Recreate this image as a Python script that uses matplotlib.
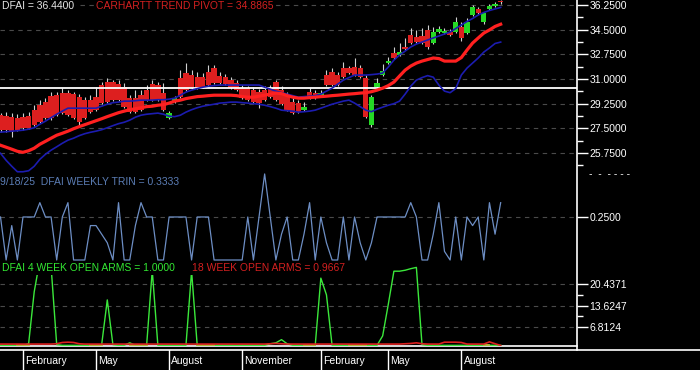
import numpy as np
import pandas as pd
import matplotlib
matplotlib.use("Agg")
import matplotlib.pyplot as plt
from matplotlib.lines import Line2D

plt.rcParams['font.family'] = ['Liberation Sans', 'DejaVu Sans']

# ------------------------------------------------------------------ data
dates = pd.date_range('2024-01-05', periods=90, freq='W-FRI')

opens = [28.43, 28.36, 28.29, 28.22, 28.29, 28.36, 28.79, 29.14, 29.36, 29.78,
         29.86, 30.00, 30.00, 29.93, 29.71, 29.50, 29.50, 29.71, 30.57, 30.78,
         30.78, 30.64, 30.42, 29.64, 29.64, 29.86, 30.21, 30.64, 30.57, 30.00,
         28.22, 29.36, 31.06, 31.42, 31.28, 31.13, 31.13, 31.49, 31.77, 31.21,
         31.13, 30.92, 30.71, 30.35, 30.35, 30.21, 30.07, 30.21, 30.35, 30.78,
         30.21, 29.86, 29.36, 29.29, 28.79, 30.07, 30.00, 29.86, 31.28, 31.49,
         31.28, 31.77, 31.77, 31.85, 31.77, 31.06, 27.72, 30.42, 31.28, 32.13,
         32.84, 32.70, 33.27, 34.12, 33.98, 34.05, 34.48, 33.55, 34.33, 34.26,
         34.33, 34.33, 34.69, 34.26, 35.54, 35.97, 35.05, 35.97, 36.18, 36.50]
closes = [27.37, 27.37, 27.22, 27.37, 27.51, 27.51, 27.72, 27.94, 28.22, 28.22,
          28.43, 28.58, 28.43, 28.22, 27.94, 28.22, 28.65, 28.79, 29.29, 29.36,
          29.50, 29.50, 29.00, 28.65, 28.65, 28.79, 29.50, 29.50, 29.50, 28.79,
          28.58, 29.64, 29.71, 30.21, 30.35, 30.35, 30.42, 30.57, 30.71, 30.71,
          30.64, 30.35, 30.21, 29.64, 29.50, 29.36, 29.29, 29.50, 29.71, 29.50,
          29.21, 28.79, 28.58, 28.65, 29.00, 29.64, 29.64, 30.00, 30.57, 30.57,
          30.57, 31.13, 31.42, 31.28, 31.13, 28.29, 29.71, 30.71, 31.56, 32.27,
          32.49, 32.91, 33.13, 33.55, 33.62, 33.55, 33.27, 34.33, 34.55, 34.41,
          34.12, 35.05, 33.91, 35.05, 36.11, 35.69, 35.69, 36.18, 36.33, 36.44]
highs = [28.58, 28.65, 28.58, 28.50, 28.58, 28.65, 29.14, 29.50, 29.64, 30.07,
         30.07, 30.35, 30.21, 30.07, 29.93, 29.71, 29.86, 30.42, 30.78, 31.06,
         30.92, 30.92, 30.71, 29.86, 30.21, 30.21, 30.57, 30.92, 30.78, 30.71,
         28.72, 29.78, 31.63, 32.13, 31.63, 31.49, 31.42, 31.99, 31.99, 31.49,
         31.35, 31.13, 30.92, 30.57, 30.50, 30.42, 30.28, 30.50, 30.57, 30.92,
         30.50, 30.07, 29.64, 29.50, 29.36, 30.35, 30.21, 30.21, 31.63, 31.77,
         31.49, 32.20, 31.92, 32.49, 31.99, 31.28, 29.86, 31.06, 32.06, 32.56,
         33.27, 33.55, 33.91, 34.62, 34.48, 34.62, 34.83, 34.69, 34.76, 34.62,
         34.55, 35.40, 35.05, 35.33, 36.25, 36.11, 35.76, 36.33, 36.47, 36.58]
lows = [27.22, 27.22, 26.87, 27.30, 27.37, 27.44, 27.65, 27.86, 28.15, 28.08,
        28.36, 28.50, 28.36, 28.15, 27.72, 28.15, 28.58, 28.72, 29.21, 29.29,
        29.43, 29.43, 28.93, 28.58, 28.58, 28.72, 29.43, 29.43, 29.43, 28.72,
        28.15, 29.29, 29.64, 30.14, 30.28, 30.28, 30.35, 30.50, 30.64, 30.64,
        30.57, 30.28, 30.14, 29.57, 29.43, 29.29, 28.93, 29.43, 29.64, 29.43,
        29.14, 28.72, 28.50, 28.58, 28.72, 29.57, 29.57, 29.78, 30.50, 30.50,
        30.50, 31.06, 31.35, 31.21, 31.06, 28.22, 27.58, 30.35, 31.21, 32.06,
        32.42, 32.63, 33.06, 33.48, 33.55, 33.48, 33.13, 33.48, 34.26, 34.19,
        34.05, 34.26, 33.69, 34.19, 35.47, 35.61, 34.90, 35.90, 36.11, 36.30]

trend_pivot = [26.30, 26.16, 26.02, 25.87, 25.80, 25.91, 26.09, 26.37, 26.58, 26.80,
               27.01, 27.15, 27.30, 27.47, 27.62, 27.76, 27.90, 28.04, 28.18, 28.33,
               28.47, 28.61, 28.72, 28.82, 28.89, 28.96, 29.04, 29.07, 29.14, 29.18,
               29.29, 29.43, 29.50, 29.61, 29.68, 29.75, 29.78, 29.82, 29.85, 29.85,
               29.85, 29.85, 29.82, 29.75, 29.71, 29.71, 29.78, 29.85, 29.93, 30.00,
               29.96, 29.82, 29.71, 29.64, 29.64, 29.68, 29.71, 29.75, 29.78, 29.82,
               29.85, 29.89, 29.93, 29.96, 30.00, 30.03, 30.10, 30.21, 30.35, 30.53,
               30.78, 31.21, 31.63, 31.92, 32.13, 32.27, 32.38, 32.49, 32.45, 32.27,
               32.27, 32.27, 32.52, 33.05, 33.55, 33.91, 34.26, 34.48, 34.73, 34.8865]
band_upper = [27.23, 27.26, 27.30, 27.33, 27.37, 27.44, 27.54, 27.79, 28.01, 28.26,
              28.50, 28.72, 28.93, 28.93, 28.93, 28.93, 28.93, 28.93, 29.07, 29.21,
              29.32, 29.36, 29.43, 29.43, 29.46, 29.50, 29.50, 29.50, 29.53, 29.53,
              29.57, 29.64, 29.85, 30.07, 30.21, 30.32, 30.42, 30.49, 30.53, 30.57,
              30.57, 30.57, 30.57, 30.57, 30.57, 30.57, 30.57, 30.42, 30.28, 30.14,
              30.03, 29.93, 29.82, 29.71, 29.75, 29.78, 29.82, 29.93, 30.14, 30.35,
              30.64, 30.92, 31.10, 31.28, 31.28, 31.28, 31.31, 31.35, 31.42, 31.85,
              32.34, 32.70, 32.98, 33.27, 33.48, 33.62, 33.77, 33.91, 34.05, 34.19,
              34.33, 34.58, 34.83, 35.08, 35.29, 35.54, 35.72, 35.86, 35.97, 36.08]
band_lower = [25.73, 25.23, 24.81, 24.42, 24.42, 24.49, 24.81, 25.30, 25.66, 25.95,
              26.19, 26.44, 26.66, 26.80, 26.98, 27.12, 27.22, 27.30, 27.40, 27.54,
              27.69, 27.83, 27.93, 28.08, 28.29, 28.43, 28.50, 28.54, 28.58, 28.50,
              28.36, 28.33, 28.43, 28.65, 28.82, 28.96, 29.07, 29.14, 29.21, 29.29,
              29.32, 29.36, 29.36, 29.32, 29.29, 29.25, 29.21, 29.14, 29.04, 28.93,
              28.79, 28.75, 28.72, 28.65, 28.68, 28.72, 28.79, 28.93, 29.07, 29.21,
              29.32, 29.43, 29.50, 29.29, 29.04, 28.79, 28.68, 28.86, 29.00, 29.14,
              29.25, 29.43, 29.93, 30.49, 30.92, 31.10, 31.24, 31.13, 30.57, 30.14,
              30.03, 30.32, 31.28, 31.77, 32.13, 32.49, 32.91, 33.20, 33.52, 33.62]
pivot_level = 30.35

trin = [0.25, 0, 0.2, 0, 0.25, 0.25, 0.25, 0.3333, 0.25, 0.25,
        0, 0.25, 0.3333, 0, 0, 0, 0.2, 0.2, 0.15, 0.1,
        0, 0.3333, 0, 0, 0.2, 0.3333, 0.25, 0.25, 0, 0,
        0.25, 0.25, 0.25, 0.25, 0, 0.25, 0.25, 0.25, 0, 0,
        0, 0, 0, 0, 0.25, 0, 0.25, 0.5, 0.25, 0,
        0.15, 0.25, 0, 0, 0.15, 0.3333, 0, 0.25, 0.1, 0,
        0, 0.25, 0, 0.25, 0.1, 0, 0.1, 0.25, 0.25, 0.25,
        0.25, 0.25, 0.25, 0.3333, 0.25, 0, 0, 0.15, 0.3333, 0.05,
        0, 0.25, 0, 0.25, 0.2, 0.25, 0, 0.3333, 0.15, 0.3333]

arms_4wk = [1.0, 1.0, 1.0, 1.0, 1.0, 1.5, 18.0, 28.0, 28.0, 26.0,
            1.2, 1.0, 1.0, 1.0, 1.0, 1.0, 1.0, 1.0, 1.2, 15.4,
            1.2, 1.0, 1.0, 1.8, 1.0, 1.0, 1.0, 24.8, 1.0, 1.0,
            1.0, 1.0, 1.0, 1.0, 24.5, 1.0, 1.0, 1.0, 1.0, 1.0,
            1.0, 1.0, 0.9, 1.0, 1.0, 1.0, 1.0, 1.0, 1.5, 1.8,
            2.8, 1.5, 1.0, 1.0, 1.0, 1.0, 1.0, 22.3, 17.0, 1.0,
            1.0, 1.0, 1.0, 1.0, 1.0, 1.0, 1.0, 1.0, 4.0, 14.0,
            24.5, 24.5, 24.8, 25.3, 25.7, 1.2, 1.0, 1.0, 1.0, 1.0,
            1.0, 1.0, 1.0, 1.0, 1.0, 1.0, 1.0, 1.0, 1.0, 1.0]
arms_18wk = [1.4, 1.4, 1.4, 1.4, 1.4, 1.4, 1.4, 1.4, 1.4, 1.4,
             1.5, 1.9, 2.0, 1.9, 1.5, 1.4, 1.4, 1.4, 1.4, 1.4,
             1.4, 1.4, 1.4, 1.4, 1.4, 1.4, 1.4, 1.4, 1.4, 1.4,
             1.4, 1.4, 1.4, 1.4, 1.4, 1.4, 1.4, 1.4, 1.4, 1.4,
             1.4, 1.4, 1.4, 1.4, 1.4, 1.4, 1.4, 1.4, 1.5, 1.6,
             1.5, 1.4, 1.4, 1.4, 1.4, 1.4, 1.4, 1.4, 1.4, 1.4,
             1.4, 1.4, 1.4, 1.4, 1.4, 1.4, 1.4, 1.4, 1.4, 1.4,
             1.4, 1.4, 1.5, 1.6, 1.8, 1.5, 1.4, 1.4, 1.4, 2.0,
             2.0, 2.0, 1.9, 1.4, 1.4, 1.4, 1.4, 2.1, 1.5, 0.9667]
arms_10wk = [np.nan, np.nan, np.nan, 1.1, 1.1, 1.1, np.nan, np.nan, np.nan, np.nan,
             np.nan, np.nan, np.nan, np.nan, np.nan, np.nan, 1.1, 1.1, 1.1, np.nan,
             np.nan, np.nan, np.nan, 1.1, 1.1, 1.1, 1.1, np.nan, np.nan, np.nan,
             np.nan, np.nan, np.nan, np.nan, np.nan, 1.1, 1.1, 1.1, 1.1, np.nan,
             np.nan, np.nan, np.nan, np.nan, np.nan, np.nan, np.nan, np.nan, np.nan, np.nan,
             np.nan, np.nan, np.nan, np.nan, 1.1, 1.1, 1.1, np.nan, np.nan, np.nan,
             np.nan, np.nan, 1.1, 1.1, 1.1, 1.1, np.nan, np.nan, np.nan, np.nan,
             np.nan, np.nan, np.nan, np.nan, np.nan, np.nan, np.nan, np.nan, np.nan, np.nan,
             np.nan, np.nan, np.nan, np.nan, np.nan, np.nan, 1.2, 1.2, np.nan, np.nan]

price_ticks = [25.75, 27.5, 29.25, 31.0, 32.75, 34.5, 36.25]
price_minor = [24.875, 26.625, 28.375, 30.125, 31.875, 33.625, 35.375]
trin_ticks = [0.25]
arms_ticks = [6.8124, 13.6247, 20.4371]
arms_minor = [10.2186, 17.0309]
quarter_months = {2: 'February', 5: 'May', 8: 'August', 11: 'November'}

# ------------------------------------------------------------------ styles
BG = 'black'
C_UP = '#25d825'
C_DN = '#dd1f1f'
C_WICK = '#cfcfcf'
C_PIVOT = '#ff2020'
C_BAND = '#1c1cb0'
C_TRIN = '#6d8ec4'
C_GRID = '#4a4a4a'
FS = 7.5

W, H = 700, 370
fig = plt.figure(figsize=(W / 100, H / 100), dpi=100, facecolor=BG)

def px_axes(top, bottom, left=0, right=577):
    return fig.add_axes([left / W, 1 - bottom / H, (right - left) / W, (bottom - top) / H])

x = np.arange(len(dates))
XL = (-0.09, 102.58)

ax1 = px_axes(0, 178)
ax2 = px_axes(170, 260)
ax3 = px_axes(261, 346)
for ax in (ax1, ax2, ax3):
    ax.set_facecolor('none')
    ax.set_xlim(*XL)
    ax.set_xticks([])
    for s in ax.spines.values():
        s.set_visible(False)
    ax.yaxis.tick_right()
    ax.tick_params(axis='y', which='major', length=8, width=1, colors='white',
                   labelsize=FS, pad=1)
    ax.tick_params(axis='y', which='minor', length=4.5, width=1, colors='white')
    ax.grid(axis='y', which='major', color=C_GRID, linestyle=(0, (4, 4)), lw=0.8)
    ax.set_axisbelow(True)

# ---------------------------------------------------------- price panel
o = np.array(opens); c = np.array(closes)
body = c - o
body = np.where(np.abs(body) < 0.07, np.where(body < 0, -0.07, 0.07), body)
cols = [C_UP if cc > oo else C_DN for oo, cc in zip(o, c)]
ax1.vlines(x, lows, highs, color=C_WICK, lw=0.8, zorder=2)
ax1.bar(x, body, bottom=o, width=0.95, color=cols, linewidth=0, zorder=3)
ax1.axhline(pivot_level, color='white', lw=1.3, zorder=4)
ax1.plot(x, band_lower, color=C_BAND, lw=1.2, zorder=5)
ax1.plot(x, band_upper, color=C_BAND, lw=1.2, zorder=5)
ax1.plot(x, trend_pivot, color=C_PIVOT, lw=2.3, zorder=5)
ax1.set_ylim(23.976, 36.605)
ax1.set_yticks(price_ticks)
ax1.set_yticks(price_minor, minor=True)
ax1.yaxis.set_major_formatter(plt.FormatStrFormatter('%.4f'))

# ---------------------------------------------------------- TRIN panel
ax2.plot(x, trin, color=C_TRIN, lw=0.9, clip_on=False)
ax2.set_ylim(0, 0.523)
ax2.set_yticks(trin_ticks)
ax2.yaxis.set_major_formatter(plt.FormatStrFormatter('%.4f'))

# ---------------------------------------------------------- open arms panel
ax3.plot(x, arms_4wk, color='#3be83b', lw=1.0, zorder=3)
ax3.plot(x, arms_10wk, color='#b8b83a', lw=1.3, zorder=4)
ax3.plot(x, arms_18wk, color='#dd2020', lw=1.2, zorder=5)
ax3.set_ylim(0.79, 27.73)
ax3.set_yticks(arms_ticks)
ax3.set_yticks(arms_minor, minor=True)
ax3.yaxis.set_major_formatter(plt.FormatStrFormatter('%.4f'))
ax3.spines['bottom'].set_visible(True)
ax3.spines['bottom'].set_color('white')
ax3.spines['bottom'].set_linewidth(1.2)

# ---------------------------------------------------------- date strip
axd = fig.add_axes([0, 0, 1, 20 / H])
axd.set_facecolor(BG)
axd.set_xlim(XL[0], XL[0] + (XL[1] - XL[0]) * W / 577)
axd.set_ylim(0, 1)
axd.set_xticks([]); axd.set_yticks([])
for k, s in axd.spines.items():
    s.set_visible(k == 'top')
axd.spines['top'].set_color('white')
axd.spines['top'].set_linewidth(1.2)
prev = None
for i, d in enumerate(dates):
    if prev is not None and d.month != prev and d.month in quarter_months:
        axd.axvline(i, color='white', lw=1)
        axd.text(i + 0.4, 0.45, quarter_months[d.month], color='white',
                 fontsize=FS, ha='left', va='center')
    prev = d.month

# right axis line
fig.add_artist(Line2D([577 / W, 577 / W], [20 / H, 1], transform=fig.transFigure,
                      color='white', lw=1.2))

# ---------------------------------------------------------- labels
def ftext(px, py, s, color, **kw):
    fig.text(px / W, 1 - py / H, s, color=color, fontsize=FS, ha='left', va='center',
             bbox=dict(facecolor=BG, edgecolor='none', pad=1.5), **kw)

ftext(2, 6, 'DFAI = 36.4400', '#e6e6e6')
ftext(96, 6, 'CARHARTT TREND PIVOT = 34.8865', '#d42020')
ftext(0, 182, '9/18/25  DFAI WEEKLY TRIN = 0.3333', '#5b7db5')
ftext(2, 268, 'DFAI 4 WEEK OPEN ARMS = 1.0000', '#33e833')
ftext(192, 268, '18 WEEK OPEN ARMS = 0.9667', '#d42020')
ftext(589, 174, '-  -  - - - -', 'white')

fig.savefig('out.png', dpi=100, facecolor=BG)
